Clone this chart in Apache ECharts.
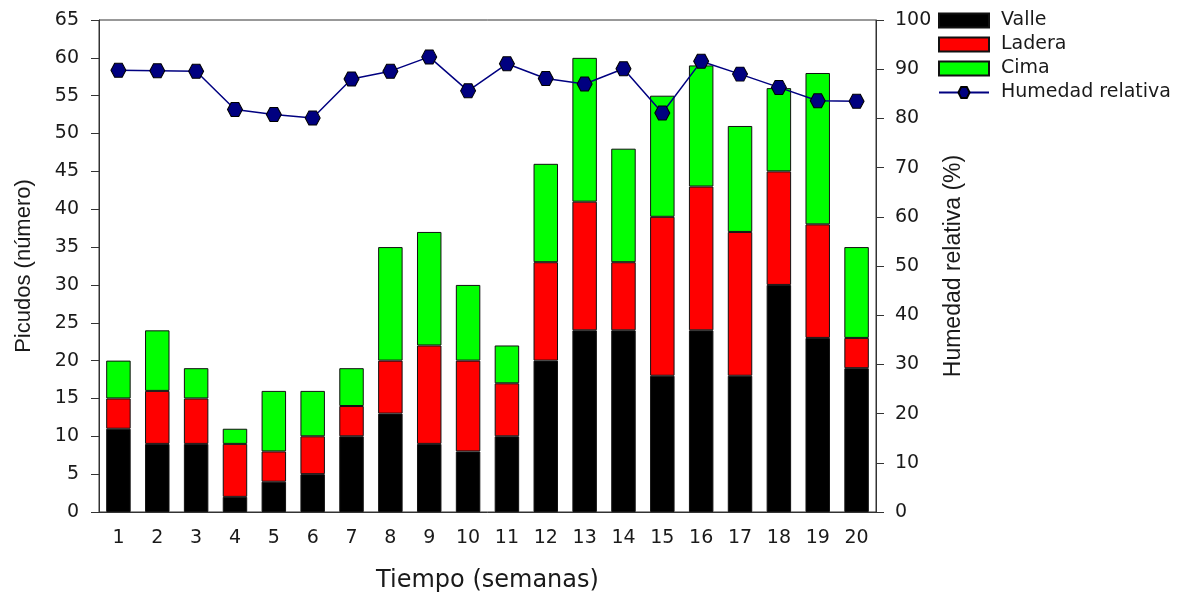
<!DOCTYPE html>
<html>
<head>
<meta charset="utf-8">
<script src="https://cdn.jsdelivr.net/npm/echarts@6/dist/echarts.min.js"></script>
<style>
  html, body { margin: 0; padding: 0; background: #fff; }
  #chart { width: 1181px; height: 594px; }
</style>
</head>
<body>
<div id="chart"></div>
<script>
// semanas 1..20
const semanas = ['1','2','3','4','5','6','7','8','9','10','11','12','13','14','15','16','17','18','19','20'];
// picudos por zona (segmentos apilados)
const valle  = [11, 9, 9, 2, 4, 5, 10, 13, 9, 8, 10, 20, 24, 24, 18, 24, 18, 30, 23, 19];
const ladera = [4, 7, 6, 7, 4, 5, 4, 7, 13, 12, 7, 13, 17, 9, 21, 19, 19, 15, 15, 4];
const cima   = [5, 8, 4, 2, 8, 6, 5, 15, 15, 10, 5, 13, 19, 15, 16, 16, 14, 11, 20, 12];
// humedad relativa (%)
const humedad = [89.8, 89.7, 89.6, 81.8, 80.8, 80.1, 88.0, 89.6, 92.5, 85.6,
                 91.1, 88.1, 87.0, 90.1, 81.1, 91.6, 89.0, 86.3, 83.6, 83.5];

// el original tiene el texto horizontal algo ensanchado: DejaVu Sans se parece más
const WIDE = '"DejaVu Sans", sans-serif';
const NARROW = '"Liberation Sans", Arial, sans-serif';
const INK = '#1a1a1a';
// hexágono para los marcadores
const HEX = 'path://M-1,0 L-0.5,-0.866 L0.5,-0.866 L1,0 L0.5,0.866 L-0.5,0.866 Z';

const chart = echarts.init(document.getElementById('chart'));

const barSeries = (name, data, color) => ({
  name, type: 'bar', stack: 'picudos', data,
  barWidth: '63%',
  itemStyle: { color, borderColor: '#111', borderWidth: 1 },
  emphasis: { disabled: true },
});

chart.setOption({
  animation: false,
  backgroundColor: '#fff',
  textStyle: { fontFamily: WIDE },
  grid: {
    left: 99, right: 305, top: 20, bottom: 82,
    outerBoundsMode: 'none',
    show: true, borderColor: '#333', borderWidth: 1,
  },
  legend: {
    orient: 'vertical', left: 933, top: 6,
    itemWidth: 50, itemHeight: 14, itemGap: 5,
    textStyle: { fontFamily: WIDE, fontSize: 19, lineHeight: 14, color: INK, padding: [0, 0, 0, 7] },
    data: [
      { name: 'Valle', icon: 'rect' },
      { name: 'Ladera', icon: 'rect' },
      { name: 'Cima', icon: 'rect' },
      { name: 'Humedad relativa' },
    ],
  },
  xAxis: {
    type: 'category', data: semanas,
    name: 'Tiempo (semanas)', nameLocation: 'middle', nameGap: 57,
    nameTextStyle: { fontSize: 24, color: INK, fontFamily: WIDE },
    axisLine: { lineStyle: { color: '#333' } },
    axisTick: { alignWithLabel: true, length: 6, lineStyle: { color: '#333' } },
    axisLabel: { fontSize: 19, color: INK, margin: 17, fontFamily: WIDE },
  },
  yAxis: [
    {
      type: 'value', min: 0, max: 65, interval: 5,
      name: 'Picudos (número)', nameLocation: 'middle', nameGap: 64,
      nameTextStyle: { fontSize: 22, color: INK, fontFamily: NARROW },
      axisLine: { show: true, lineStyle: { color: '#333' } },
      axisTick: { show: true, length: 8, lineStyle: { color: '#333' } },
      axisLabel: { fontSize: 19, color: INK, margin: 20, fontFamily: WIDE },
      splitLine: { show: false },
    },
    {
      type: 'value', min: 0, max: 100, interval: 10, position: 'right',
      name: 'Humedad relativa (%)', nameLocation: 'middle', nameGap: 58,
      nameTextStyle: { fontSize: 23, color: INK, fontFamily: NARROW },
      axisLine: { show: true, lineStyle: { color: '#333' } },
      axisTick: { show: true, length: 8, lineStyle: { color: '#333' } },
      axisLabel: { fontSize: 19, color: INK, margin: 19, fontFamily: WIDE },
      splitLine: { show: false },
    },
  ],
  series: [
    barSeries('Valle', valle, '#000000'),
    barSeries('Ladera', ladera, '#ff0000'),
    barSeries('Cima', cima, '#00ff00'),
    {
      name: 'Humedad relativa', type: 'line', yAxisIndex: 1, data: humedad,
      symbol: HEX, symbolSize: [15, 14], z: 5,
      lineStyle: { color: '#000080', width: 1.5 },
      itemStyle: { color: '#000080', borderColor: '#000', borderWidth: 1 },
      emphasis: { disabled: true },
    },
  ],
});
</script>
</body>
</html>
